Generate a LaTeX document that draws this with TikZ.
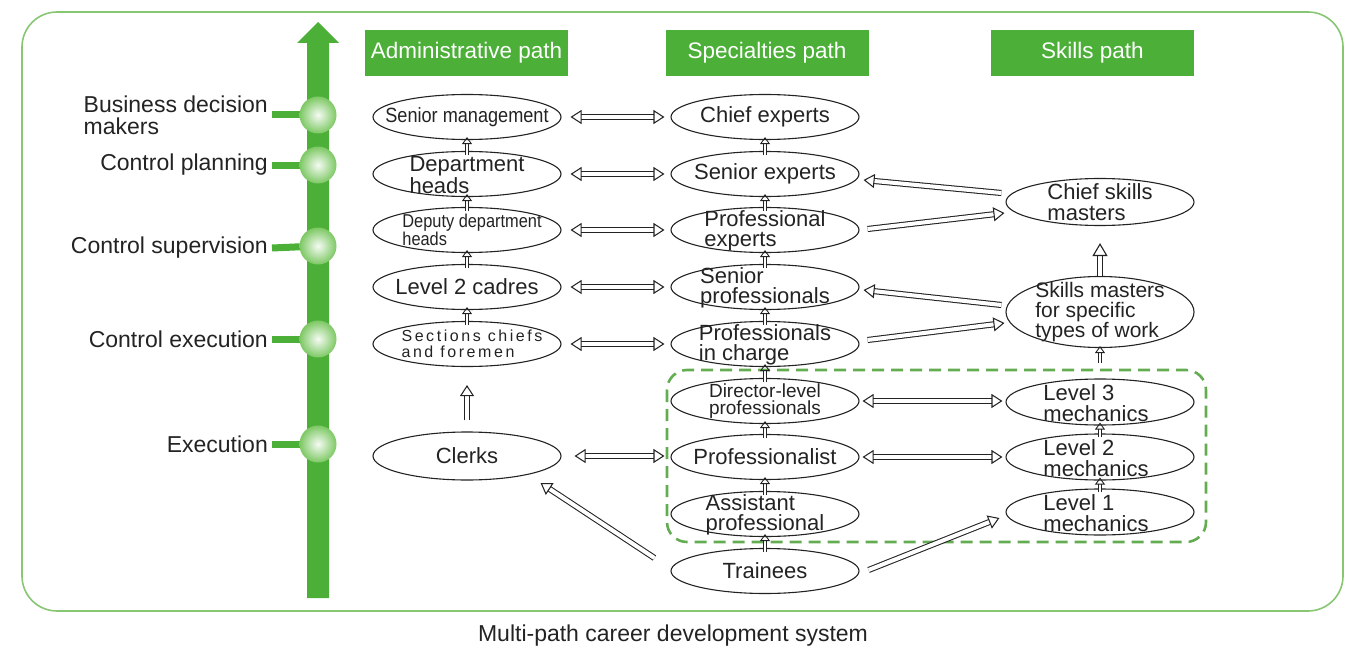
\documentclass[tikz,border=0pt]{standalone}
\usepackage{fontspec}
\setmainfont{Liberation Sans}
\newfontfamily\narrowfont[FakeStretch=0.88]{Liberation Sans}
\newfontfamily\spacedfont[LetterSpace=16]{Liberation Sans}
\usetikzlibrary{shapes.geometric,arrows.meta}
\definecolor{barg}{RGB}{76,176,56}
\definecolor{outerg}{RGB}{135,198,115}
\definecolor{dashg}{RGB}{100,172,82}
\definecolor{ballg}{RGB}{125,200,100}
\definecolor{inkc}{RGB}{35,35,35}
\newcommand\setfs[2]{\fontsize{#1}{#2}\selectfont}
\begin{document}
\begin{tikzpicture}[x=1pt,y=-1pt,
  ell/.style={draw=inkc, line width=1.1pt, ellipse, minimum width=188pt, minimum height=45pt, inner sep=0pt},
  et/.style={font=\setfs{22}{20.5}, align=left, inner sep=0pt, text=inkc},
  lbl/.style={font=\setfs{23}{22}, align=left, inner sep=0pt, anchor=east, text=inkc},
  hdr/.style={fill=barg, text=white, minimum width=203pt, minimum height=46pt, inner sep=0pt, font=\setfs{22.5}{24}},
  ball/.style={circle, minimum size=37pt, inner sep=0pt, inner color=white!92!ballg, outer color=ballg},
  tick/.style={barg, line width=7pt},
  sarr/.style={draw=inkc, line width=0.9pt, double=white, double distance=2.8pt,
     -{Triangle[open,length=7pt,width=10pt,line width'=0.9pt]}},
  harr/.style={draw=inkc, line width=1.05pt, double=white, double distance=4pt,
     -{Triangle[open,length=11pt,width=14pt,line width'=1.05pt]}},
  hharr/.style={harr, {Triangle[open,length=11pt,width=14pt,line width'=1.05pt]}-{Triangle[open,length=11pt,width=14pt,line width'=1.05pt]}},
  barr/.style={draw=inkc, line width=1.1pt, double=white, double distance=4.6pt,
     -{Triangle[open,length=13pt,width=15pt,line width'=1.1pt]}}
]
\useasboundingbox (0,0) rectangle (1346,650);
% frames
\draw[outerg, line width=1.6pt, rounded corners=35pt] (22,12) rectangle (1343,611);
\draw[dashg, line width=2.6pt, dash pattern=on 12pt off 7pt, rounded corners=20pt] (667,370) rectangle (1206,542);
% green axis arrow
\fill[barg] (307,598) -- (307,43) -- (297,43) -- (318,22) -- (339,43) -- (329,43) -- (329,598) -- cycle;
% level labels
\node[lbl] (l1) at (268,115) {Business decision\\makers};
\node[lbl] (l2) at (268,165) {Control planning};
\node[lbl] (l3) at (268,248) {Control supervision};
\node[lbl] (l4) at (268,339) {Control execution};
\node[lbl] (l5) at (268,444) {Execution};
\coordinate (c1) at (318,115);
\coordinate (c2) at (318,165);
\coordinate (c3) at (318,246);
\coordinate (c4) at (318,339);
\coordinate (c5) at (318,444);
\foreach \i in {1,...,5}{\draw[tick] ([xshift=4pt]l\i.east) -- (c\i);}
\foreach \i in {1,...,5}{\node[ball] (b\i) at (c\i) {};}
% headers
\node[hdr] (h1) at (466.5,53) {Administrative path};
\node[hdr] (h2) at (767,53) {Specialties path};
\node[hdr] (h3) at (1092.5,53) {Skills path};
% administrative column
\node[ell] (a1) at (467,117) {};
\node[ell] (a2) at (467,174) {};
\node[ell] (a3) at (467,230) {};
\node[ell] (a4) at (467,287) {};
\node[ell] (a5) at (467,344) {};
\node[ell, minimum height=48pt] (a6) at (467,456) {};
\node[et, font=\narrowfont\setfs{20.6}{19}] (a1t) at (a1) {Senior management};
\node[et] (a2t) at ([yshift=-1pt]a2) {Department\\heads};
\node[et, font=\narrowfont\setfs{18.6}{17.5}] (a3t) at ([xshift=5pt]a3) {Deputy department\\heads};
\node[et] (a4t) at (a4) {Level 2 cadres};
\node[et, font=\spacedfont\setfs{16}{15.5}] (a5t) at ([xshift=5pt]a5) {Sections chiefs\\and foremen};
\node[et] (a6t) at (a6) {Clerks};
% specialties column
\node[ell] (s1) at (765,117) {};
\node[ell] (s2) at (765,174) {};
\node[ell] (s3) at (765,230) {};
\node[ell] (s4) at (765,287) {};
\node[ell] (s5) at (765,344) {};
\node[ell] (s6) at (765,401) {};
\node[ell] (s7) at (765,457) {};
\node[ell] (s8) at (765,514) {};
\node[ell] (s9) at (765,571) {};
\node[et] (s1t) at (s1) {Chief experts};
\node[et] (s2t) at (s2) {Senior experts};
\node[et] (s3t) at ([yshift=-1pt]s3) {Professional\\experts};
\node[et] (s4t) at ([yshift=-1pt]s4) {Senior\\professionals};
\node[et] (s5t) at ([yshift=-1pt]s5) {Professionals\\in charge};
\node[et, font=\setfs{19}{17}] (s6t) at (s6) {Director-level\\professionals};
\node[et] (s7t) at (s7) {Professionalist};
\node[et] (s8t) at ([yshift=-1pt]s8) {Assistant\\professional};
\node[et] (s9t) at (s9) {Trainees};
% skills column
\node[ell, minimum height=47pt] (k1) at (1100,202) {};
\node[ell, minimum height=71pt] (k2) at (1100,312) {};
\node[ell, minimum height=46pt] (k3) at (1100,402) {};
\node[ell, minimum height=46pt] (k4) at (1100,457) {};
\node[ell, minimum height=46pt] (k5) at (1100,512) {};
\node[et] (k1t) at (k1) {Chief skills\\masters};
\node[et, font=\setfs{21}{20}] (k2t) at (k2) {Skills masters\\for specific\\types of work};
\node[et] (k3t) at ([xshift=-4pt,yshift=-1pt]k3) {Level 3\\mechanics};
\node[et] (k4t) at ([xshift=-4pt,yshift=-1pt]k4) {Level 2\\mechanics};
\node[et] (k5t) at ([xshift=-4pt,yshift=-1pt]k5) {Level 1\\mechanics};
% small vertical arrows
\foreach \lo/\hi in {a2/a1,a3/a2,a4/a3,a5/a4,s2/s1,s3/s2,s4/s3,s5/s4,s6/s5,s7/s6,s8/s7,s9/s8,k4/k3,k5/k4}
  {\draw[sarr, shorten <=-4pt, shorten >=-3pt] (\lo.north) -- (\hi.south);}
\draw[sarr, shorten >=-2pt] ([yshift=15pt]k3.north) -- (k2.south);
\draw[harr] ([yshift=11pt]a6.north) -- ([yshift=-18pt]a5.south);
\draw[barr] (k2.north) -- ([yshift=-17pt]k1.south);
% horizontal double arrows
\foreach \i in {1,...,5}{\draw[hharr, shorten <=9pt, shorten >=6pt] (a\i.east) -- (s\i.west);}
\draw[hharr, shorten <=13pt, shorten >=6pt] (a6.east) -- (a6.east -| s7.west);
\draw[hharr, shorten <=3pt, shorten >=3pt] (s6.east) -- (s6.east -| k3.west);
\draw[hharr, shorten <=3pt, shorten >=3pt] (s7.east) -- (s7.east -| k4.west);
% diagonal arrows
\draw[harr] ([shift={(-4pt,9pt)}]k1.west) -- ([shift={(4pt,-6pt)}]s2.east);
\draw[harr] ([shift={(8pt,1pt)}]s3.east) -- ([shift={(-1pt,-11pt)}]k1.west);
\draw[harr] ([shift={(-4pt,7pt)}]k2.west) -- ([shift={(4pt,-3pt)}]s4.east);
\draw[harr] ([shift={(8pt,4pt)}]s5.east) -- ([shift={(-1pt,-11pt)}]k2.west);
\draw[harr] ([shift={(-16pt,13pt)}]s9.west) -- ([shift={(-21pt,-27pt)}]a6.east);
\draw[harr] ([shift={(9pt,1pt)}]s9.east) -- ([shift={(-6pt,-6pt)}]k5.west);
% caption
\node[font=\setfs{23}{24}, inner sep=0pt, text=inkc] (cap) at (673,636) {Multi-path career development system};
\end{tikzpicture}
\end{document}
